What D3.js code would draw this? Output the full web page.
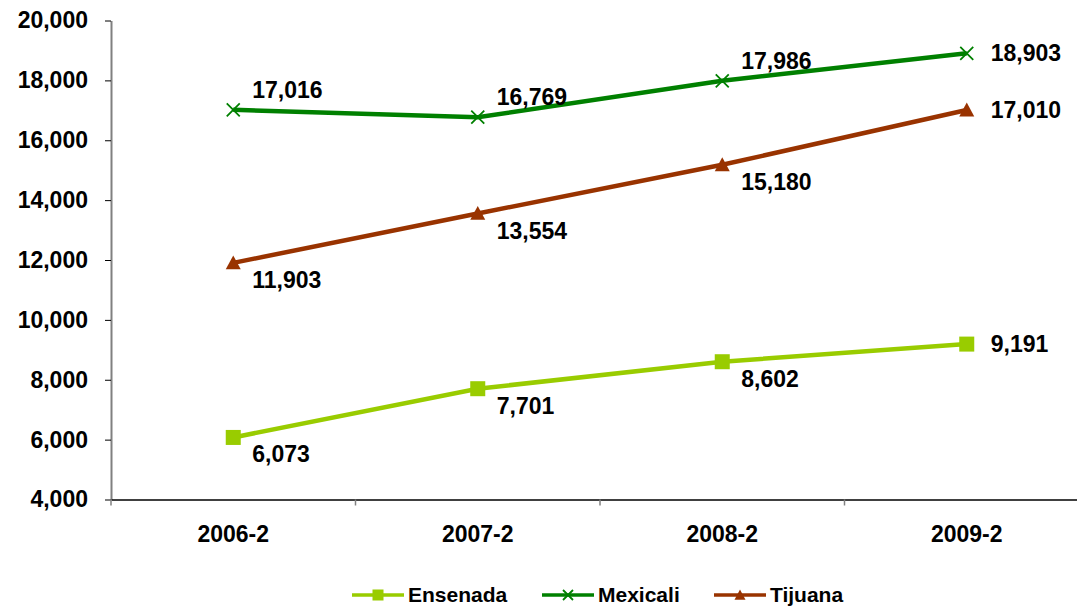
<!DOCTYPE html>
<html>
<head>
<meta charset="utf-8">
<script src="https://cdn.jsdelivr.net/npm/d3@7"></script>
<style>
html,body{margin:0;padding:0;background:#fff;}
svg{display:block;font-family:"Liberation Sans",Arial,sans-serif;font-weight:bold;}
</style>
</head>
<body>
<svg id="chart" width="1077" height="608"></svg>
<script>
const categories = ["2006-2", "2007-2", "2008-2", "2009-2"];
const ensenada = [6073, 7701, 8602, 9191];
const mexicali = [17016, 16769, 17986, 18903];
const tijuana = [11903, 13554, 15180, 17010];
const yTicks = [4000, 6000, 8000, 10000, 12000, 14000, 16000, 18000, 20000];
// label placement per point: "a" above-right, "b" below-right, "r" right
const ensenadaPos = ["b", "b", "b", "r"];
const mexicaliPos = ["a", "a", "a", "r"];
const tijuanaPos = ["b", "b", "b", "r"];

const series = [
  {name: "Ensenada", values: ensenada, pos: ensenadaPos, color: "#99CC00", marker: "square"},
  {name: "Mexicali", values: mexicali, pos: mexicaliPos, color: "#008000", marker: "x"},
  {name: "Tijuana", values: tijuana, pos: tijuanaPos, color: "#993300", marker: "triangle"}
];

const svg = d3.select("#chart");
const mLeft = 111, mRight = 1089, mTop = 20.5, mBottom = 499.5;

const x = d3.scaleBand().domain(categories).range([mLeft, mRight]).padding(0);
const y = d3.scaleLinear().domain([4000, 20000]).range([mBottom, mTop]);
const fmt = d3.format(",");

// Y axis
const yAxis = svg.append("g").attr("transform", `translate(${mLeft},0)`)
  .call(d3.axisLeft(y).tickValues(yTicks).tickFormat(fmt).tickSize(6).tickSizeOuter(0).tickPadding(17));
yAxis.select(".domain").attr("stroke", "#808080").attr("stroke-width", 2);
yAxis.selectAll(".tick line").attr("stroke", "#000").attr("stroke-width", 1);
yAxis.selectAll("text").attr("font-size", 23).attr("font-weight", "bold").attr("fill", "#000")
  .attr("font-family", "Liberation Sans, Arial, sans-serif");

// X axis
const xAxis = svg.append("g").attr("transform", `translate(0,${mBottom})`)
  .call(d3.axisBottom(x).tickSize(0).tickSizeOuter(0).tickPadding(26));
xAxis.select(".domain").attr("stroke", "#000").attr("stroke-width", 1.5);
xAxis.selectAll("text").attr("font-size", 23).attr("font-weight", "bold").attr("fill", "#000")
  .attr("font-family", "Liberation Sans, Arial, sans-serif");
// band boundary ticks
const bounds = categories.map(c => x(c)).concat([x(categories[categories.length-1]) + x.bandwidth()]);
svg.append("g").selectAll("line").data(bounds).join("line")
  .attr("x1", d => d).attr("x2", d => d).attr("y1", mBottom).attr("y2", mBottom + 6)
  .attr("stroke", "#808080").attr("stroke-width", 1.5);

const cx = c => x(c) + x.bandwidth() / 2;

function drawMarker(g, type, px, py, color, s) {
  if (type === "square") {
    g.append("rect").attr("x", px - s/2).attr("y", py - s/2).attr("width", s).attr("height", s).attr("fill", color);
  } else if (type === "x") {
    const h = s/2;
    g.append("path").attr("d", `M${px-h},${py-h}L${px+h},${py+h}M${px-h},${py+h}L${px+h},${py-h}`)
      .attr("stroke", color).attr("stroke-width", 1.8).attr("fill", "none");
  } else {
    const h = s/2;
    g.append("path").attr("d", `M${px},${py-h}L${px+h},${py+h*0.85}L${px-h},${py+h*0.85}Z`).attr("fill", color);
  }
}

series.forEach(s => {
  const pts = categories.map((c, i) => [cx(c), y(s.values[i])]);
  const g = svg.append("g");
  g.append("path").attr("d", d3.line()(pts)).attr("fill", "none")
    .attr("stroke", s.color).attr("stroke-width", 4.5);
  pts.forEach(p => drawMarker(g, s.marker, p[0], p[1], s.color, s.marker === "x" ? 13 : 15));
  pts.forEach((p, i) => {
    const pos = s.pos[i];
    let lx = p[0] + 19, ly = p[1];
    if (pos === "a") ly = p[1] - 20;
    else if (pos === "b") ly = p[1] + 17;
    else lx = p[0] + 24;
    g.append("text").attr("x", lx).attr("y", ly).attr("dy", "0.35em")
      .attr("font-size", 23).attr("fill", "#000").text(fmt(s.values[i]));
  });
});

// Legend
const legendItems = [
  {s: series[0], x0: 352},
  {s: series[1], x0: 542},
  {s: series[2], x0: 714}
];
const legY = 595;
legendItems.forEach(it => {
  const g = svg.append("g");
  g.append("line").attr("x1", it.x0).attr("x2", it.x0 + 52).attr("y1", legY).attr("y2", legY)
    .attr("stroke", it.s.color).attr("stroke-width", 3.5);
  drawMarker(g, it.s.marker, it.x0 + 26, legY, it.s.color, it.s.marker === "x" ? 10 : 11);
  g.append("text").attr("x", it.x0 + 56).attr("y", legY).attr("dy", "0.35em")
    .attr("font-size", 21).attr("fill", "#000").text(it.s.name);
});
</script>
</body>
</html>
